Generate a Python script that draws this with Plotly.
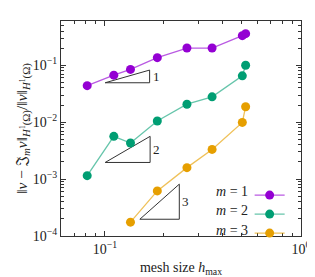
import numpy as np
import plotly.graph_objects as go

# mesh sizes
h = [0.0812, 0.111, 0.135, 0.185, 0.262, 0.352, 0.502, 0.522]
err_m1 = [0.0439, 0.0671, 0.0847, 0.136, 0.201, 0.201, 0.332, 0.359]
err_m2 = [0.00115, 0.00564, 0.0043, 0.0105, 0.0207, 0.0279, 0.0653, 0.100]
h_m3 = [0.135, 0.185, 0.262, 0.352, 0.502, 0.522]
err_m3 = [0.000175, 0.00062, 0.00159, 0.00332, 0.0099, 0.0187]

series_names = ["<i>m</i> = 1", "<i>m</i> = 2", "<i>m</i> = 3"]
colors = ["#9400D3", "#009E73", "#E69F00"]
line_colors = ["rgba(148,0,211,0.65)", "rgba(0,158,115,0.6)", "rgba(230,159,0,0.65)"]

# slope triangles: (x_left, x_right, y_bottom, y_top, label)
tri_x = [(0.1003, 0.169), (0.1003, 0.170), (0.1507, 0.2395)]
tri_y = [(0.0493, 0.0824), (0.00196, 0.00564), (0.000197, 0.000815)]
tri_labels = ["1", "2", "3"]

font_family = "Liberation Serif, DejaVu Serif, serif"

fig = go.Figure()

for (x0, x1), (y0, y1) in zip(tri_x, tri_y):
    fig.add_trace(go.Scatter(
        x=[x0, x1, x1, x0], y=[y0, y1, y0, y0], mode="lines",
        line=dict(color="#333333", width=1), showlegend=False, hoverinfo="skip"))

for xs, ys, name, c, lc in zip([h, h, h_m3], [err_m1, err_m2, err_m3], series_names, colors, line_colors):
    fig.add_trace(go.Scatter(
        x=xs, y=ys, mode="lines+markers", name="",
        line=dict(color=lc, width=1.3),
        marker=dict(color=c, size=9)))

for (x0, x1), (y0, y1), lab in zip(tri_x, tri_y, tri_labels):
    fig.add_annotation(x=np.log10(x1), y=(np.log10(y0) + np.log10(y1)) / 2, text=lab,
                       xanchor="left", yanchor="middle", xshift=1, showarrow=False,
                       font=dict(size=13, family=font_family, color="#222"))

# legend labels placed to the left of the legend keys (as in the reference)
legend_top_py = 180.0
first_row_off = 11.0
row_h = 20.5
for i, name in enumerate(series_names):
    py = legend_top_py + first_row_off + i * row_h
    fig.add_annotation(xref="paper", yref="paper", x=(244 - 53) / 243, y=(238 - py) / 225,
                       text=name, xanchor="right", yanchor="middle", showarrow=False,
                       font=dict(size=14, family=font_family, color="#222"))

minor_x = [0.06, 0.07, 0.08, 0.09, 0.2, 0.3, 0.4, 0.5, 0.6, 0.7, 0.8, 0.9]
minor_y = [m * 10.0 ** e for e in range(-4, 0) for m in range(2, 10)]

axis_common = dict(type="log", showgrid=False, zeroline=False, showline=True, linecolor="#333",
                   linewidth=1, mirror="allticks", ticks="inside", ticklen=5, tickcolor="#333",
                   tickfont=dict(size=14, family=font_family, color="#222"))

fig.update_xaxes(**axis_common, range=[np.log10(0.0597), 0],
                 tickvals=[0.1, 1], ticktext=["10<sup>−1</sup>", "10<sup>0</sup>"],
                 minor=dict(tickvals=minor_x, ticks="inside", ticklen=3, tickcolor="#333", showgrid=False),
                 title=dict(text="mesh size <i>h</i><sub>max</sub>", font=dict(size=14, family=font_family, color="#222"),
                            standoff=6))
fig.update_yaxes(**axis_common, range=[-4, np.log10(0.6)],
                 tickvals=[1e-4, 1e-3, 1e-2, 1e-1],
                 ticktext=["10<sup>−4</sup>", "10<sup>−3</sup>", "10<sup>−2</sup>", "10<sup>−1</sup>"],
                 minor=dict(tickvals=minor_y, ticks="inside", ticklen=3, tickcolor="#333", showgrid=False),
                 title=dict(text="‖<i>v</i> − 𝔍<sub><i>m</i></sub><i>v</i>‖<sub><i>H</i><sup>1</sup>(Ω)</sub>/‖<i>v</i>‖<sub><i>H</i><sup>1</sup>(Ω)</sub>",
                            font=dict(size=15.5, family=font_family, color="#222"), standoff=1))

fig.update_layout(
    width=315, height=277,
    margin=dict(l=53, r=19, t=13, b=39),
    paper_bgcolor="white", plot_bgcolor="white",
    font=dict(family=font_family, size=13, color="#222"),
    showlegend=True,
    legend=dict(x=(244 - 53) / 243, y=(238 - legend_top_py) / 225, xanchor="left", yanchor="top",
                bgcolor="rgba(0,0,0,0)", borderwidth=0,
                font=dict(size=10, family=font_family), itemwidth=30, tracegroupgap=0),
)

fig.write_html("out.html")
